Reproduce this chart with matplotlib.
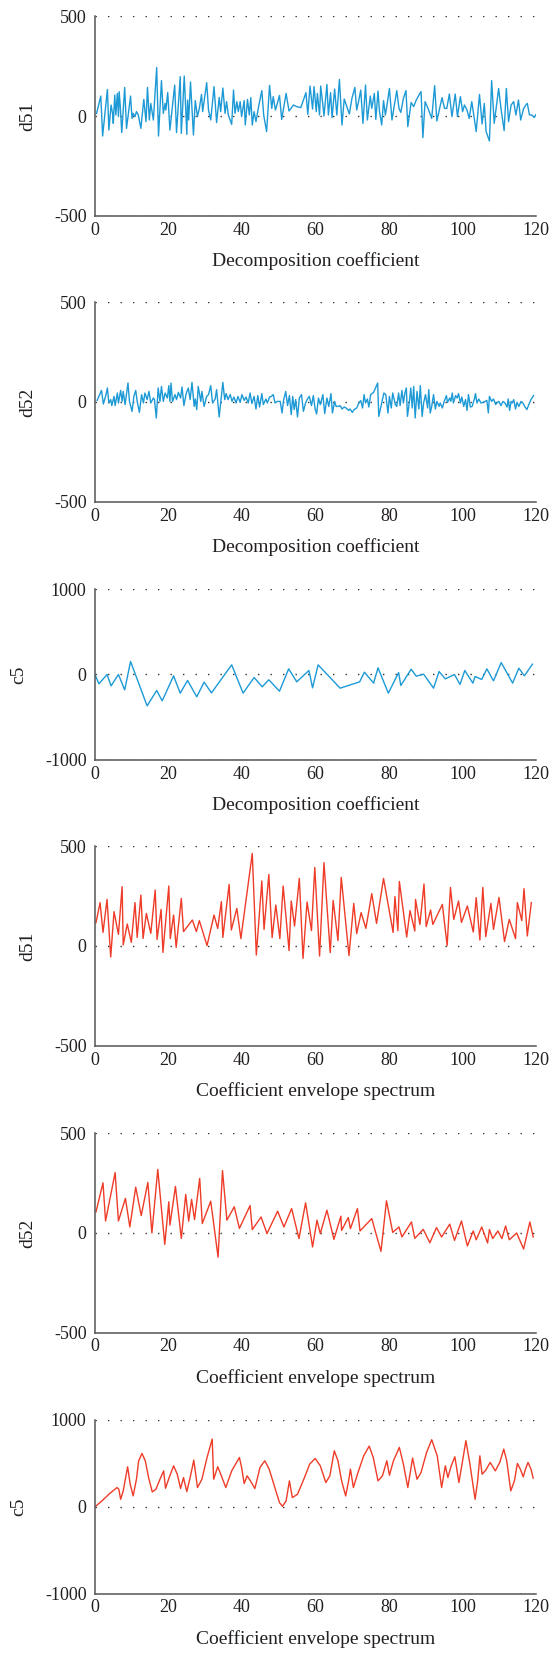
import numpy as np
import matplotlib.pyplot as plt

# colours of the two groups of panels
blue = "#1d9ad6"
red = "#ee3c28"

# ---- panel 1: d51, decomposition coefficient
d51_x = [0.45, 1.6, 2.1, 3.4, 3.8, 4.4, 4.8, 5.0, 5.4, 5.7, 6.1, 6.4, 6.6, 6.9, 7.3, 8.1, 8.6, 9.7, 10.1, 10.4,
         10.9, 11.3, 11.8, 12.5, 13.3, 13.9, 14.3, 14.8, 15.2, 15.9, 16.8, 17.3, 18.1, 18.6, 19.1, 19.3, 19.8, 20.4,
         21.7, 22.2, 23.2, 23.5, 24.3, 25.0, 25.2, 25.5, 26.0, 26.8, 27.3, 27.9, 28.4, 29.0, 29.3, 30.4, 30.9, 31.5,
         32.4, 33.1, 33.8, 34.2, 34.8, 35.4, 35.8, 36.3, 37.2, 37.7, 38.1, 38.6, 39.0, 39.5, 39.9, 40.6, 40.9, 41.5,
         42.0, 42.4, 42.8, 43.3, 43.8, 44.6, 45.4, 45.9, 46.7, 47.5, 48.1, 48.5, 49.1, 49.5, 50.2, 50.8, 52.0, 52.8,
         54.0, 54.9, 56.0, 56.7, 57.4, 57.9, 58.5, 59.2, 59.6, 60.2, 60.5, 61.1, 61.4, 62.0, 62.3, 63.1, 63.5, 64.1,
         64.5, 65.2, 65.8, 66.5, 67.2, 67.8, 68.5, 69.2, 69.9, 70.7, 71.2, 71.7, 72.3, 72.9, 73.6, 74.1, 74.9, 75.3,
         76.0, 76.4, 77.0, 77.4, 78.0, 78.5, 79.0, 79.4, 80.1, 80.8, 81.4, 82.1, 82.7, 83.2, 83.9, 84.6, 85.1, 86.0,
         86.7, 87.4, 88.0, 88.7, 89.2, 89.8, 90.6, 91.6, 92.4, 93.0, 94.4, 95.1, 95.7, 96.4, 97.1, 98.0, 98.6, 99.4,
         100.0, 100.5, 101.2, 101.8, 102.5, 103.7, 104.6, 105.3, 105.9, 106.4, 107.3, 107.9, 108.6, 109.8, 110.5,
         111.3, 111.9, 112.5, 113.2, 113.9, 114.5, 115.2, 115.8, 116.6, 117.2, 117.6, 118.2, 118.8, 119.5, 120.0]
d51_y = [13, 100, -100, 133, -70, 55, 13, -37, 105, 5, 113, -3, 122, 47, -83, 143, -62, 100, -12, 13,
         -3, 22, 5, -62, 83, -28, 143, -20, 63, -20, 243, -100, 177, 13, 63, 30, 118, -70,
         155, -83, 197, -87, 200, -92, 80, -20, 170, -95, 77, -3, 38, 108, 22, 167, 30, -20,
         147, -33, 93, 22, 140, 13, 72, 5, -42, 130, 13, 72, 22, 72, -3, 77, -45, 83,
         5, 92, -45, 22, -28, 55, 127, 5, -78, 153, 38, 97, 30, 55, 103, -17, 113, 25,
         55, 47, 42, 80, 117, 8, 150, 35, 147, 22, 113, 5, 150, 55, 0, 158, 5, 117,
         -8, 135, 5, 183, -45, 85, 47, 10, 88, 143, 30, 72, 130, -37, 155, -20, 100, 38,
         113, -17, 125, 22, -45, 77, 5, 50, 138, -20, 50, 127, 38, 18, 88, 127, -53, 68,
         47, 80, 100, 122, -108, 72, 38, -12, 152, -25, 92, 38, 38, 110, -3, 110, -3, 97,
         22, 55, 30, -12, 72, -78, 108, -40, 63, -78, -125, 177, -37, 138, 30,
         -73, 138, -28, 55, 72, 5, 80, -20, 38, 55, 63, 5, 5, -7, 8]

# ---- panel 2: d52, decomposition coefficient
d52_x = [0.6, 1.8, 2.3, 2.9, 3.4, 3.8, 4.3, 4.6, 5.2, 5.5, 6.1, 6.4, 7.0, 7.4, 7.7, 8.2, 9.0, 9.4, 10.1, 10.6,
         11.1, 11.5, 12.1, 12.7, 13.2, 13.6, 14.2, 14.7, 15.2, 15.9, 16.2, 16.7, 17.2, 17.7, 18.1, 18.6, 19.1, 19.7,
         20.1, 20.4, 20.7, 21.1, 21.8, 22.2, 22.7, 23.3, 23.7, 24.2, 24.8, 25.4, 25.9, 26.4, 27.0, 27.3, 27.7, 28.1,
         28.8, 29.1, 29.7, 30.4, 30.9, 31.5, 32.0, 32.7, 33.1, 33.8, 34.8, 35.3, 35.7, 36.2, 36.8, 37.3, 37.8, 38.4,
         38.9, 39.5, 40.0, 40.6, 41.1, 41.7, 42.2, 42.7, 43.3, 43.8, 44.3, 44.8, 45.4, 45.8, 46.5, 46.9, 47.5, 48.0,
         48.5, 49.0, 49.6, 50.4, 50.9, 51.3, 51.9, 52.4, 52.9, 53.4, 53.8, 54.2, 54.6, 55.1, 55.6, 56.2, 56.7, 57.3,
         57.8, 58.3, 58.9, 59.4, 59.9, 60.3, 60.8, 61.3, 62.0, 62.5, 63.1, 63.6, 64.2, 64.6, 65.2, 65.6, 66.2, 66.7,
         67.2, 67.8, 68.3, 69.0, 69.4, 70.0, 70.5, 71.2, 71.8, 72.3, 72.8, 73.2, 73.6, 74.1, 74.5, 75.0, 75.8, 76.3,
         76.9, 77.2, 78.0, 78.6, 79.1, 79.7, 80.1, 80.6, 81.0, 81.7, 82.1, 82.6, 83.0, 83.5, 83.9, 84.3, 84.7, 85.0,
         85.5, 85.9, 86.3, 86.7, 87.1, 87.6, 88.1, 88.5, 89.0, 89.4, 89.9, 90.5, 90.8, 91.2, 91.6, 92.1, 92.6, 93.0,
         93.6, 93.9, 94.5, 95.0, 95.6, 95.9, 96.5, 96.8, 97.2, 97.5, 98.1, 98.5, 98.9, 99.4, 99.8, 100.3, 100.8,
         101.2, 101.6, 102.1, 102.6, 103.2, 103.5, 103.9, 104.4, 105.0, 105.5, 106.1, 106.6, 107.0, 107.3, 107.9,
         108.4, 109.0, 109.3, 109.9, 110.4, 111.0, 111.5, 112.1, 112.4, 112.8, 113.2, 113.5, 113.9, 114.4, 114.8,
         115.3, 115.9, 116.4, 117.0, 117.5, 118.0, 118.6, 119.3]
d52_y = [8, 58, -10, 28, 70, -5, 12, -18, 28, -18, 45, -5, 58, 3, 53, -13, 95, 3, -47, 28,
         58, 3, -52, 37, -5, 45, 12, 53, -5, 20, 12, -80, 70, 3, 78, 3, 45, 20, 82, 3,
         95, 3, 37, 12, 48, 20, 75, -18, 40, 70, 12, 98, -22, 15, -38, 78, 3, 53, -22, 28,
         37, 82, -5, 15, 62, -75, 98, 12, 42, 12, 37, 3, 25, -5, 28, -2, 37, 8, 25, -5,
         45, -8, 28, -35, 32, -25, 42, -13, 15, -5, 25, 28, 37, -5, 3, 3, -55, 8, 53, -18,
         32, -63, 28, -38, 12, -75, 20, 37, -47, -5, 15, 28, -18, 32, -35, -60, 20, -13, 37, -58,
         20, -22, 42, -55, 3, -22, -22, -18, -35, -25, -30, -42, -35, -52, -38, -30, -5, 7, -30, 37,
         -5, 15, -25, 37, 48, 70, 95, -72, -5, 45, 37, -55, 28, -30, 45, -13, -22, 45, -18, 58,
         -5, 45, 70, -72, -5, 70, -30, 78, -80, 53, -35, 82, -72, -5, 37, -30, 62, -55, -22, 37,
         -35, 3, -22, -5, -30, 3, 32, -2, 20, 3, 45, -5, 32, 20, 42, -5, 25, -22, 12, -42,
         37, -25, -22, 15, 42, -5, 15, -5, -2, 3, 8, -55, 28, 3, 15, -13, -5, 3, -18, 3,
         -5, -25, 15, -42, 3, -5, 12, -35, -2, -22, 3, -5, -25, -38, -13, 12, 32]

# ---- panel 3: c5, decomposition coefficient
c5_x = [0, 1.1, 3.3, 4.4, 6.4, 8.1, 9.7, 14.2, 16.8, 18.3, 21.4, 23.2, 25.2, 27.7, 29.7, 31.7, 37.2, 40.3,
        43.3, 45.5, 47.3, 50.2, 52.7, 54.9, 58.2, 59.2, 60.7, 66.7, 72.0, 73.3, 75.8, 77.0, 79.8, 82.6, 83.2,
        86.0, 87.4, 89.4, 92.1, 93.6, 95.3, 97.8, 99.3, 100.6, 102.8, 103.4, 105.2, 106.6, 108.4, 110.5,
        113.6, 115.3, 116.8, 119.0]
c5_y = [0, -109, 0, -133, 0, -180, 152, -367, -187, -308, -16, -218, -70, -261, -90, -215, 113, -218,
        -35, -144, -62, -195, 66, -86, 47, -156, 113, -160, -86, 27, -101, 78, -218, 23, -129,
        62, -20, 4, -160, 35, -51, 0, -117, 47, -101, -23, -58, 66, -74, 140,
        -101, 74, -16, 121]

# ---- panel 4: d51, coefficient envelope spectrum
env51_x = [0.3, 1.4, 2.2, 3.3, 4.3, 5.2, 6.4, 7.4, 7.7, 8.8, 9.9, 10.9, 11.5, 12.5, 13.1, 14.0, 15.2, 16.4,
           16.9, 18.0, 18.5, 20.1, 20.5, 21.4, 22.1, 23.5, 24.1, 26.5, 27.6, 28.4, 30.5, 32.4, 33.4, 34.4,
           34.8, 36.5, 37.1, 38.6, 39.7, 42.8, 43.9, 45.4, 46.0, 47.3, 48.2, 49.2, 50.3, 51.2, 52.8, 53.4,
           54.3, 55.6, 56.6, 57.7, 58.9, 59.8, 61.1, 62.3, 64.0, 64.8, 66.1, 67.0, 69.1, 70.4, 71.2, 72.4,
           73.7, 75.3, 76.6, 78.5, 81.1, 81.6, 82.4, 82.8, 84.8, 85.7, 87.0, 87.2, 88.4, 89.5, 90.1, 91.3,
           91.9, 94.5, 95.8, 96.7, 97.6, 98.9, 99.7, 101.3, 102.9, 103.7, 104.7, 105.5, 106.3, 107.7, 108.4,
           109.9, 111.4, 112.7, 114.4, 114.9, 116.1, 116.7, 117.6, 118.7]
env51_y = [117, 217, 68, 233, -55, 172, 58, 297, 5, 110, 18, 217, 43, 255, 38, 163, 63, 280,
           33, 183, -32, 300, 37, 155, -7, 238, 72, 130, 72, 127, 2, 155, 88, 222,
           43, 308, 80, 188, 37, 463, -45, 325, 83, 358, 42, 205, 37, 300, -23, 225,
           100, 338, -62, 220, 77, 393, -50, 417, -33, 228, 27, 343, -48, 213, 62, 167,
           88, 262, 113, 338, 68, 247, 77, 323, 45, 177, 75, 233, 108, 310, 97, 180,
           108, 208, 2, 293, 133, 225, 118, 200, 70, 242, 30, 293, 47, 213, 83,
           243, 22, 133, 37, 217, 127, 287, 50, 217]

# ---- panel 5: d52, coefficient envelope spectrum
env52_x = [0.3, 2.2, 2.9, 5.5, 6.4, 8.3, 9.5, 11.1, 12.6, 14.4, 15.5, 17.1, 19.0, 20.1, 20.4, 21.9, 23.5,
           24.7, 25.5, 26.3, 27.1, 28.5, 29.2, 31.5, 33.5, 34.7, 35.9, 37.9, 39.3, 42.2, 42.8, 45.2, 46.8,
           49.7, 51.4, 53.5, 55.5, 57.3, 59.2, 60.4, 61.3, 63.1, 65.0, 66.9, 67.1, 68.9, 69.5, 71.4, 72.1,
           75.3, 77.8, 79.3, 81.0, 82.7, 83.5, 86.1, 87.0, 89.3, 91.1, 92.9, 94.3, 96.5, 97.8, 99.7, 101.3,
           102.9, 103.7, 105.2, 106.8, 107.3, 108.2, 109.6, 110.7, 111.7, 112.7, 114.7, 116.6, 118.3, 119.2]
env52_y = [106, 251, 60, 302, 60, 173, 30, 229, 87, 253, 0, 318, -57, 156, 39, 233, -27,
           193, 59, 168, 67, 273, 47, 159, -121, 312, 64, 131, 23, 137, 17, 80, -3,
           109, 30, 122, -28, 151, -70, 64, -3, 114, -32, 84, 13, 77, 22, 122, 10,
           72, -92, 161, 3, 30, -20, 55, -27, 18, -49, 27, -20, 44, -37, 60, -65,
           10, -34, 30, -50, 17, -28, 10, -28, 35, -34, 0, -80, 55, -20]

# ---- panel 6: c5, coefficient envelope spectrum
envc5_x = [0, 2.1, 4.0, 6.0, 6.5, 7.0, 7.7, 8.9, 9.6, 10.4, 11.3, 11.9, 12.8, 13.7, 14.6, 15.6, 16.6, 17.7,
           18.7, 19.2, 20.2, 21.4, 22.4, 23.3, 24.1, 24.4, 25.0, 25.9, 26.9, 27.9, 29.1, 30.5, 31.9, 32.3,
           33.4, 34.4, 35.6, 37.2, 39.3, 39.9, 40.6, 41.4, 42.3, 43.5, 44.9, 46.2, 47.4, 48.8, 50.2, 51.0,
           52.0, 52.9, 53.7, 55.1, 57.0, 58.4, 59.9, 61.3, 62.8, 63.9, 65.1, 66.1, 67.1, 68.2, 69.0, 69.5,
           70.3, 71.4, 73.1, 74.6, 75.7, 77.0, 78.2, 79.4, 80.1, 81.2, 82.8, 83.9, 85.1, 86.4, 87.6, 88.7,
           90.2, 91.6, 93.1, 94.3, 95.3, 96.0, 96.9, 97.9, 99.0, 100.0, 100.9, 102.0, 103.4, 104.1, 104.7,
           105.3, 106.3, 107.5, 108.9, 110.1, 111.2, 112.0, 113.1, 114.1, 114.9, 115.7, 116.5, 117.1, 117.8,
           118.6, 119.2]
envc5_y = [0, 77, 154, 223, 204, 88, 185, 462, 262, 127, 319, 531, 615, 531, 338, 173, 204, 319,
           415, 215, 338, 473, 377, 212, 338, 281, 177, 338, 538, 223, 319, 569, 781, 319,
           462, 358, 223, 415, 569, 454, 269, 358, 300, 212, 454, 531, 435, 242, 50, 8,
           69, 300, 108, 146, 338, 492, 558, 473, 281, 358, 646, 531, 300, 127, 300, 435,
           223, 377, 588, 700, 569, 300, 358, 531, 365, 531, 685, 492, 223, 562, 319, 396,
           627, 773, 588, 223, 473, 338, 473, 577, 281, 531, 762, 492, 88, 300, 588,
           377, 423, 512, 415, 512, 665, 531, 185, 300, 500, 435, 346, 435, 512,
           435, 331]

xticks = [0, 20, 40, 60, 80, 100, 120]
label_top = "Decomposition coefficient"
label_bottom = "Coefficient envelope spectrum"

panels = [
    (d51_x, d51_y, blue, "d51", 500, label_top),
    (d52_x, d52_y, blue, "d52", 500, label_top),
    (c5_x, c5_y, blue, "c5", 1000, label_top),
    (env51_x, env51_y, red, "d51", 500, label_bottom),
    (env52_x, env52_y, red, "d52", 500, label_bottom),
    (envc5_x, envc5_y, red, "c5", 1000, label_bottom),
]

# axes boxes in figure fraction (left, bottom, width, height)
boxes = [
    [0.171, 0.8695, 0.795, 0.1208],
    [0.171, 0.6967, 0.795, 0.1208],
    [0.171, 0.5408, 0.795, 0.1033],
    [0.171, 0.3680, 0.795, 0.1208],
    [0.171, 0.1946, 0.795, 0.1208],
    [0.171, 0.0369, 0.795, 0.1051],
]

plt.rcParams['font.family'] = ['Liberation Serif', 'DejaVu Serif']
txt = "#231f20"

fig = plt.figure(figsize=(5.55, 16.55), dpi=100)
for (x, y, col, name, lim, xlab), box in zip(panels, boxes):
    ax = fig.add_axes(box)
    ax.plot(x, y, color=col, linewidth=1.0)
    ax.set_xlim(0, 120)
    ax.set_ylim(-lim, lim)
    ax.set_xticks(xticks)
    ax.set_yticks([-lim, 0, lim])
    ax.set_yticklabels([str(-lim), "0", str(lim)])
    ax.yaxis.grid(True, linestyle=(0, (1, 8)), color="#333333", linewidth=1.0)
    ax.set_axisbelow(True)
    for s in ["top", "right"]:
        ax.spines[s].set_visible(False)
    for s in ["left", "bottom"]:
        ax.spines[s].set_color("#555555")
        ax.spines[s].set_linewidth(1.1)
    ax.tick_params(length=0, labelsize=13, colors=txt)
    ax.tick_params(axis="x", pad=4)
    ax.tick_params(axis="y", pad=6)
    ax.set_xlabel(xlab, fontsize=14, color=txt, labelpad=10)
    ax.set_ylabel(name, fontsize=14, color=txt, labelpad=13)

fig.savefig("out.png", dpi=100)
